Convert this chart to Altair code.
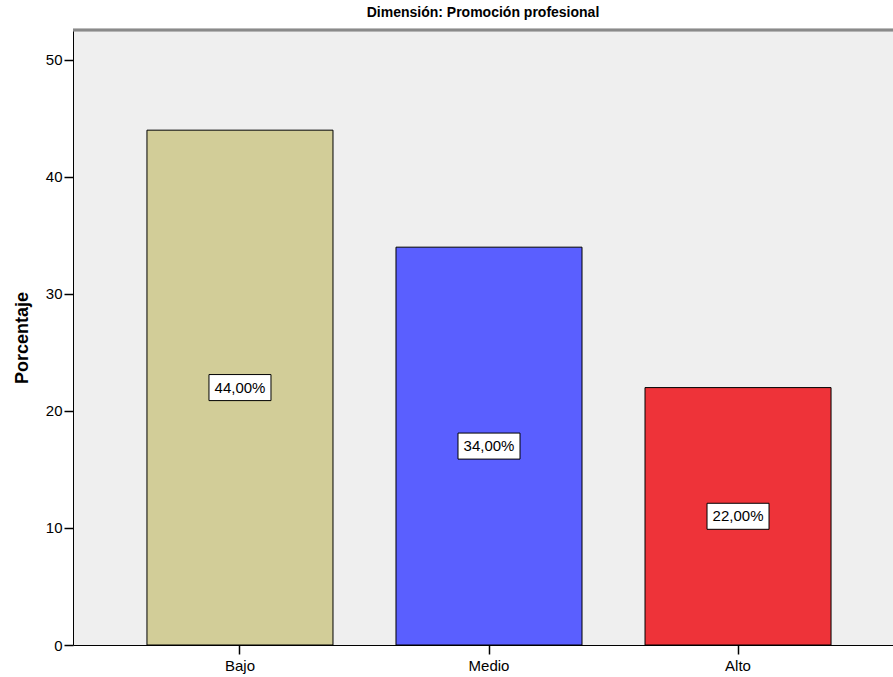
import altair as alt
import pandas as pd

categories = ["Bajo", "Medio", "Alto"]
percentages = [44.0, 34.0, 22.0]
labels = ["44,00%", "34,00%", "22,00%"]
colors = ["#D2CD98", "#5A5FFF", "#EE3339"]

df = pd.DataFrame({
    "cat": categories,
    "pct": percentages,
    "half": [p / 2 for p in percentages],
    "label": labels,
})

FONT = "Liberation Sans"

x_enc = alt.X(
    "cat:N",
    sort=categories,
    title=None,
    scale=alt.Scale(range=[0, 832], paddingInner=0.253, paddingOuter=0.297),
    axis=alt.Axis(
        labelAngle=0, labelFontSize=15, labelFont=FONT, labelColor="#000000",
        tickSize=9, tickColor="#000000", domainColor="#000000", labelPadding=4,
        domainWidth=1, tickWidth=1.5,
    ),
)

bars = alt.Chart(df).mark_bar(stroke="#000000", strokeWidth=1).encode(
    x=x_enc,
    y=alt.Y(
        "pct:Q",
        title="Porcentaje",
        scale=alt.Scale(domain=[0, 52.56], nice=False),
        axis=alt.Axis(
            values=[0, 10, 20, 30, 40, 50], grid=False,
            labelFontSize=15, labelFont=FONT, labelColor="#000000",
            tickSize=9, tickColor="#000000", domainColor="#000000",
            tickWidth=1.5, labelPadding=2,
            titleFont=FONT, titleFontSize=18, titleFontWeight="bold",
            titleColor="#000000", titlePadding=14,
        ),
    ),
    color=alt.Color("cat:N", scale=alt.Scale(domain=categories, range=colors), legend=None),
)

top_border = alt.Chart(df).mark_rule(color="#8A8A8A", strokeWidth=2.5).encode(
    x=alt.value(0), x2=alt.value(840), y=alt.value(0)
)

box_path = "M-1,-0.42 L1,-0.42 L1,0.42 L-1,0.42 Z"
boxes = alt.Chart(df).mark_point(
    shape=box_path, size=3844, filled=True, fill="#FFFFFF",
    stroke="#000000", strokeWidth=1, opacity=1,
).encode(
    x=alt.X("cat:N", sort=categories),
    y=alt.Y("half:Q"),
)

texts = alt.Chart(df).mark_text(
    font=FONT, fontSize=15, color="#000000", baseline="middle", align="center",
).encode(
    x=alt.X("cat:N", sort=categories),
    y=alt.Y("half:Q"),
    text="label:N",
)

chart = alt.layer(bars, top_border, boxes, texts).properties(
    width=820,
    height=615,
    title=alt.TitleParams(
        "Dimensión: Promoción profesional", font=FONT, fontSize=14,
        fontWeight="bold", color="#000000", anchor="middle", offset=9,
    ),
    autosize=alt.AutoSizeParams(type="none"),
    padding={"left": 73, "top": 30, "right": 0, "bottom": 32},
).configure(
    background="#FFFFFF",
    view=alt.ViewConfig(fill="#EFEFEF", stroke="transparent"),
)

chart.save("out.html", embed_options={"renderer": "svg", "actions": False})
